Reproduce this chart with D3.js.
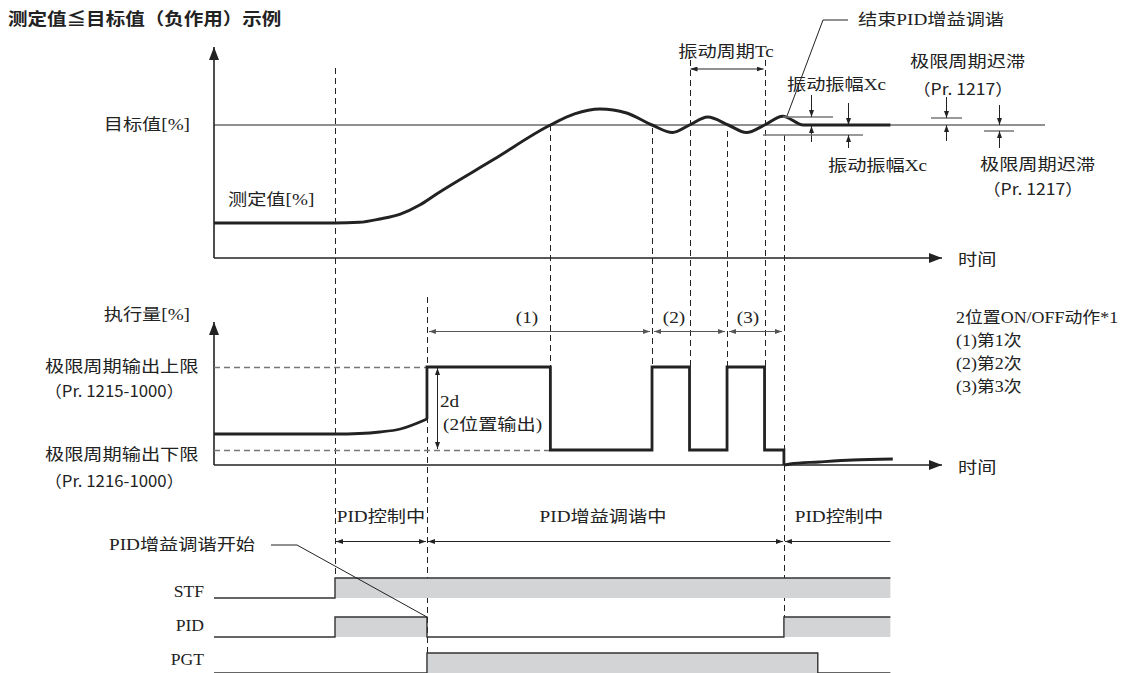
<!DOCTYPE html>
<html><head><meta charset="utf-8">
<script src="https://cdn.jsdelivr.net/npm/d3@7"></script>
<style>body{margin:0;background:#fff}svg{display:block}</style>
</head><body>
<svg id="c" width="1125" height="673"></svg>
<script>
// ---------------- data ----------------
const timeDomain = [0, 60];
const setpoint = 60;
// measured value (top chart), % units
const pvTime  = [0, 10, 12, 13.7, 15.4, 17, 18.4, 23.1, 27.8, 29.8, 31.9, 34.1, 36.2, 37.9, 39.3, 40.8, 42.5, 44.0, 45.5, 47.0, 48.7, 55.9];
const pvValue = [15.8, 15.8, 16.1, 17.6, 19.8, 23.9, 28.9, 44.4, 60, 65, 67.2, 65.4, 60, 56.6, 60, 63.6, 60, 56.6, 60, 64, 60, 60];
// manipulated value (middle chart), % units
const mvCurveTime  = [0, 10, 12, 13.7, 15.4, 17.6];
const mvCurveValue = [31, 31, 31.5, 33, 36, 46];
const mvStepTime   = [17.6, 17.6, 27.8, 36.2, 39.3, 42.4, 45.5, 47.1];
const mvStepValue  = [46, 98, 15, 98, 15, 98, 15, 0];
const mvTailTime   = [47.1, 47.6, 50, 52.8, 56.1];
const mvTailValue  = [0, 1, 3, 5, 6];
const upperLimit = 98, lowerLimit = 15;
// timing chart
const signalNames = ["STF", "PID", "PGT"];
const stfTime = [0, 10, 55.9], stfLevel = [0, 1, 1];
const pidTime = [0, 10, 17.6, 47.1, 55.9], pidLevel = [0, 1, 0, 1, 1];
const pgtTime = [0, 17.6, 49.9, 55.9], pgtLevel = [0, 1, 0, 0];
const phaseLabels = ["PID控制中", "PID增益调谐中", "PID控制中"];
const phaseBounds = [10, 17.6, 47.1, 55.9];
const onoffLabels = ["(1)", "(2)", "(3)"];
const onoffBounds = [17.6, 36.2, 42.4, 47.1];
const legendLines = ["2位置ON/OFF动作*1", "(1)第1次", "(2)第2次", "(3)第3次"];

// ---------------- setup ----------------
const SERIF = "'Liberation Serif','Noto Sans CJK SC',serif";
const SANS = "'Noto Sans CJK SC','Noto Sans',sans-serif";
const INK = "#222";
const svg = d3.select("#c");
const defs = svg.append("defs");
function marker(id, w, h, fill) {
  defs.append("marker").attr("id", id).attr("viewBox", `0 0 ${w} ${h}`)
    .attr("refX", w).attr("refY", h / 2).attr("markerWidth", w).attr("markerHeight", h)
    .attr("markerUnits", "userSpaceOnUse").attr("orient", "auto-start-reverse")
    .append("path").attr("d", `M0,0 L${w},${h / 2} L0,${h} Z`).attr("fill", fill);
}
marker("big", 13, 10, INK);
marker("small", 7, 5, INK);
marker("smallg", 7, 5, "#555");

const g = svg.append("g");
const xS = d3.scaleLinear().domain(timeDomain).range([214, 940]);
const yT = d3.scaleLinear().domain([0, setpoint]).range([258, 125]);
const yM = d3.scaleLinear().domain([0, 100]).range([465, 365]);
const yRow = d3.scaleOrdinal().domain(signalNames).range([598, 637, 673]);
const rowLabelY = { STF: 592, PID: 626, PGT: 660 };
const HIGH = 20;
const cx = t => Math.round(xS(t)) + 0.5;

function label(x, y, s, o = {}) {
  const t = g.append("text")
    .attr("transform", `translate(${x},${y}) scale(${o.sx ?? 1.2},1)`)
    .attr("text-anchor", o.anchor || "start")
    .attr("dominant-baseline", "central")
    .style("font-family", o.family || SERIF)
    .style("font-size", (o.size || 16) + "px")
    .style("fill", o.fill || INK)
    .text(s);
  if (o.weight) t.style("font-weight", o.weight);
  return t;
}
function line(x1, y1, x2, y2, o = {}) {
  const l = g.append("line").attr("x1", x1).attr("y1", y1).attr("x2", x2).attr("y2", y2)
    .attr("stroke", o.stroke || INK).attr("stroke-width", o.w || 1);
  if (o.dash) l.attr("stroke-dasharray", o.dash);
  if (o.start) l.attr("marker-start", `url(#${o.start})`);
  if (o.end) l.attr("marker-end", `url(#${o.end})`);
  return l;
}

// ---------------- guides (dashed) ----------------
const guides = [
  [10, 68, 578], [17.6, 297, 673], [27.8, 125, 367], [36.2, 128, 367],
  [39.3, 60, 367], [42.4, 131, 367], [45.5, 60, 367], [47.1, 135, 617]
];
guides.forEach(([t, a, b]) => line(cx(t), a, cx(t), b, { stroke: "#222", w: 1, dash: "6,4" }));

// ---------------- top chart ----------------
line(xS(0), yT(0), xS(0), 47, { w: 1.6, end: "big" });
line(xS(0), yT(0), 942, yT(0), { w: 1.6, end: "big" });
line(xS(0), yT(setpoint), 1045, yT(setpoint), { w: 1.2 });
g.append("path")
  .attr("d", d3.line().x((d, i) => xS(pvTime[i])).y(d => yT(d)).curve(d3.curveMonotoneX)(pvValue))
  .attr("fill", "none").attr("stroke", INK).attr("stroke-width", 3);

label(190, yT(setpoint), "目标值[%]", { anchor: "end" });
label(228, 200, "测定值[%]");
label(958, yT(0), "时间", { family: SANS });
label(8, 18, "测定值≦目标值（负作用）示例", { family: SANS, size: 17, sx: 1.15, weight: 700 });

// oscillation period Tc
line(xS(39.3) + 1, 69, xS(45.5) - 1, 69, { start: "small", end: "small", w: 1 });
label(726, 52, "振动周期Tc", { anchor: "middle" });

// end of tuning leader
g.append("path").attr("d", "M848,20 L823,20 L787,116").attr("fill", "none").attr("stroke", INK).attr("stroke-width", 1);
label(858, 20, "结束PID增益调谐");

// amplitude Xc (upper)
line(783, 117, 833, 117, { stroke: "#777", w: 1.5 });
line(811.5, 95, 811.5, 117, { end: "small" });
line(811.5, 142, 811.5, yT(setpoint) + 1, { end: "small" });
label(787, 85, "振动振幅Xc");
// amplitude Xc (lower)
line(763, 135, 863, 135, { stroke: "#777", w: 1.5 });
line(848.5, 103, 848.5, yT(setpoint), { end: "small" });
line(848.5, 148, 848.5, 135, { end: "small" });
label(828, 166, "振动振幅Xc");
// hysteresis (upper)
line(931, 118, 962, 118, { stroke: "#777", w: 1.5 });
line(946.5, 97, 946.5, 118, { end: "small" });
line(946.5, 141, 946.5, yT(setpoint), { end: "small" });
label(910, 62, "极限周期迟滞");
label(913, 88, "（Pr. 1217）", { family: SANS, sx: 1.1 });
// hysteresis (lower)
line(984, 131, 1014, 131, { stroke: "#777", w: 1.5 });
line(999.5, 105, 999.5, yT(setpoint), { end: "small" });
line(999.5, 148, 999.5, 131, { end: "small" });
label(980, 165, "极限周期迟滞");
label(983, 188, "（Pr. 1217）", { family: SANS, sx: 1.1 });

// ---------------- middle chart ----------------
line(xS(0), yM(0), xS(0), 322, { w: 1.6, end: "big" });
line(xS(0), yM(0), 942, yM(0), { w: 1.6, end: "big" });
line(xS(0), yM(upperLimit) + 0.5, xS(17.6), yM(upperLimit) + 0.5, { stroke: "#777", w: 1.3, dash: "6,4" });
line(xS(0), yM(lowerLimit) + 0.5, xS(27.8), yM(lowerLimit) + 0.5, { stroke: "#777", w: 1.3, dash: "6,4" });

const mvStyle = p => p.attr("fill", "none").attr("stroke", INK).attr("stroke-width", 2.8).attr("stroke-linejoin", "miter");
mvStyle(g.append("path").attr("d", d3.line().x((d, i) => xS(mvCurveTime[i])).y(d => yM(d)).curve(d3.curveMonotoneX)(mvCurveValue)));
mvStyle(g.append("path").attr("d", d3.line().x((d, i) => xS(mvStepTime[i])).y(d => yM(d)).curve(d3.curveStepAfter)(mvStepValue)));
mvStyle(g.append("path").attr("d", d3.line().x((d, i) => xS(mvTailTime[i])).y(d => yM(d)).curve(d3.curveMonotoneX)(mvTailValue)).attr("stroke-width", 2));

// 2d
line(437.5, yM(upperLimit) + 1, 437.5, yM(lowerLimit) - 1, { start: "small", end: "small" });
label(440, 402, "2d");
label(443, 425, "(2位置输出)");

// on/off periods
onoffLabels.forEach((s, i) => {
  const a = xS(onoffBounds[i]), b = xS(onoffBounds[i + 1]);
  line(a + 2, 331.5, b - 2, 331.5, { stroke: "#555", start: "smallg", end: "smallg" });
});
label(527, 318, onoffLabels[0], { anchor: "middle" });
label(674, 318, onoffLabels[1], { anchor: "middle" });
label(748, 318, onoffLabels[2], { anchor: "middle" });

label(190, 315, "执行量[%]", { anchor: "end" });
label(45, 367, "极限周期输出上限");
label(45, 390, "（Pr. 1215-1000）", { family: SANS, sx: 1.05 });
label(45, 455, "极限周期输出下限");
label(45, 480, "（Pr. 1216-1000）", { family: SANS, sx: 1.05 });
label(958, yM(0) + 1, "时间", { family: SANS });

legendLines.forEach((s, i) => label(956, 318 + i * 23, s, { size: 16, sx: 1.12 }));

// ---------------- timing chart ----------------
const py = 541.5;
line(xS(phaseBounds[0]) + 1, py, xS(phaseBounds[1]) - 1, py, { start: "small", end: "small" });
line(xS(phaseBounds[1]) + 1, py, xS(phaseBounds[2]) - 1, py, { start: "small", end: "small" });
line(xS(phaseBounds[2]) + 1, py, xS(phaseBounds[3]), py, { start: "small" });
label(381, 517, phaseLabels[0], { anchor: "middle" });
label(603, 517, phaseLabels[1], { anchor: "middle" });
label(839, 517, phaseLabels[2], { anchor: "middle" });

const signals = [[stfTime, stfLevel], [pidTime, pidLevel], [pgtTime, pgtLevel]];
signals.forEach(([ts, ls], k) => {
  const name = signalNames[k], base = yRow(name);
  const yy = v => base - v * HIGH;
  for (let i = 0; i < ts.length - 1; i++) {
    if (ls[i] === 1) {
      g.append("rect").attr("x", xS(ts[i])).attr("y", yy(1))
        .attr("width", xS(ts[i + 1]) - xS(ts[i])).attr("height", HIGH).attr("fill", "#d3d4d6");
    }
  }
  g.append("path")
    .attr("d", d3.line().x((d, i) => xS(ts[i])).y(d => yy(d)).curve(d3.curveStepAfter)(ls))
    .attr("fill", "none").attr("stroke", "#333").attr("stroke-width", 1.4);
  label(204, rowLabelY[name], name, { anchor: "end", size: 16, sx: 1.1 });
});
// gain tuning start leader
g.append("path").attr("d", `M271,545 L297,545 L${xS(17.6)},${yRow("PID") - HIGH}`)
  .attr("fill", "none").attr("stroke", INK).attr("stroke-width", 1);
label(109, 545, "PID增益调谐开始");
</script>
</body></html>
